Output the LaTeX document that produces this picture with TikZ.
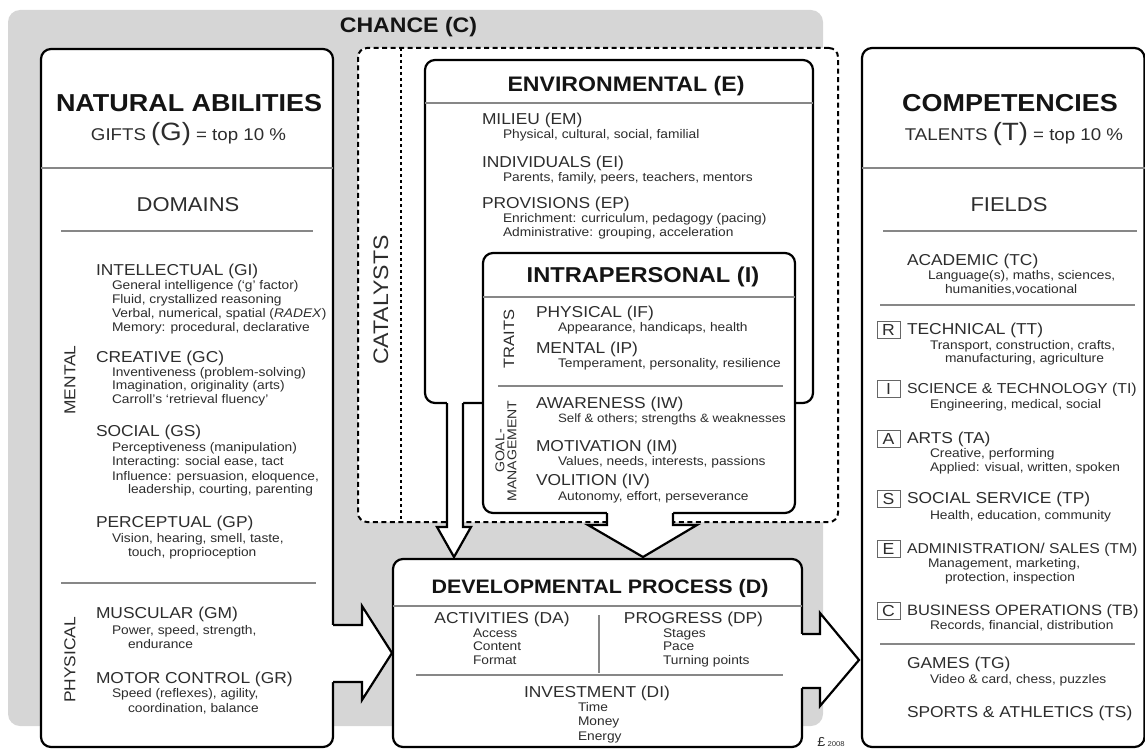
\documentclass[tikz,border=0pt]{standalone}
\usepackage{fontspec}
\setmainfont{Liberation Sans}[FakeStretch=1.1]
\definecolor{bg}{RGB}{214,214,214}
\definecolor{txt}{RGB}{45,45,45}
\definecolor{rulec}{RGB}{135,135,135}
\tikzset{
  every node/.style={inner sep=0pt, outer sep=0pt},
  Hbig/.style={font=\fontsize{#1}{#1}\selectfont\bfseries, text=black!92, anchor=base},
  hd/.style={font=\fontsize{15.8}{18}\selectfont, text=txt, anchor=base west, yshift=-5.7pt},
  hdc/.style={font=\fontsize{15.8}{18}\selectfont, text=txt, anchor=base, yshift=-5.7pt},
  sb/.style={font=\fontsize{12.5}{14}\selectfont, text=txt, anchor=base west, yshift=-4pt},
  rot/.style={font=\fontsize{#1}{#1}\selectfont, text=txt, rotate=90, anchor=center},
  box/.style={draw=black, line width=2.2pt, fill=white, rounded corners=10pt, anchor=north west},
  dbox/.style={draw=black, line width=2pt, dash pattern=on 5pt off 3.5pt, fill=white, rounded corners=9pt, anchor=north west},
  bline/.style={draw=black, line width=2.2pt, line join=miter},
  sep/.style={draw=rulec, line width=1.2pt},
  lbox/.style={draw=black!60, line width=0.9pt, minimum width=23pt, minimum height=17pt, font=\fontsize{16}{16}\selectfont, text=txt},
}
\newcommand\hdl[4]{\node[hd] (#1) at (#2,#3) {#4};}
\newcommand\sbl[4]{\node[sb] (#1) at (#2,#3) {#4};}
\begin{document}
\begin{tikzpicture}[x=1pt,y=-1pt]
\useasboundingbox (0,0) rectangle (1145,749);
% chance background
\fill[bg, rounded corners=12pt] (8,10) rectangle (823,726);
\node[Hbig=21] (chance) at (408.5,33) {CHANCE (C)};
% catalysts dashed box
\node[dbox, minimum width=480pt, minimum height=474pt] (cat) at (358,48) {};
\draw[line width=2pt, dash pattern=on 3pt off 3pt] (401,48) -- (401,522);
% boxes
\node[box, minimum width=388pt, minimum height=343pt] (env) at (425,60) {};
\node[box, minimum width=312pt, minimum height=260pt] (intra) at (483,253) {};
\node[box, minimum width=292pt, minimum height=698pt] (nat) at (41,49) {};
\node[box, minimum width=282.5pt, minimum height=699pt] (comp) at (862,48) {};
\node[box, minimum width=409pt, minimum height=188pt] (dev) at (393,559) {};
% block arrows
\fill[white] (447,400) -- (447,527) -- (437,527) -- (454,557) -- (471,527) -- (463,527) -- (463,400) -- cycle;
\draw[bline] (447,403) -- (447,527) -- (437,527) -- (454,557) -- (471,527) -- (463,527) -- (463,403);
\fill[white] (607,510) -- (607,525) -- (588,525) -- (643,557) -- (697,525) -- (673,525) -- (673,510) -- cycle;
\draw[bline] (607,513) -- (607,525) -- (588,525) -- (643,557) -- (697,525) -- (673,525) -- (673,513);
\fill[white] (330,625) -- (362,625) -- (362,606) -- (392,653) -- (362,700) -- (362,682) -- (330,682) -- cycle;
\draw[bline] (333,625) -- (362,625) -- (362,606) -- (392,653) -- (362,700) -- (362,682) -- (333,682);
\fill[white] (799,634) -- (820,634) -- (820,613) -- (859,660) -- (820,706) -- (820,688) -- (799,688) -- cycle;
\draw[bline] (802,634) -- (820,634) -- (820,613) -- (859,660) -- (820,706) -- (820,688) -- (802,688);
% separators
\draw[sep] (41,168) -- (333,168);
\draw[sep] (61,231) -- (313,231);
\draw[sep] (61,583) -- (316,583);
\draw[sep] (862,168) -- (1145,168);
\draw[sep] (883,231) -- (1137,231);
\draw[sep] (880,305) -- (1135,305);
\draw[sep] (880,644) -- (1135,644);
\draw[sep] (425,103) -- (813,103);
\draw[sep] (483,297) -- (795,297);
\draw[sep] (498,386) -- (783,386);
\draw[sep] (393,606) -- (802,606);
\draw[sep] (599,615) -- (599,673);
\draw[sep] (416,675) -- (783,675);
% ---------------- left box ----------------
\node[Hbig=24.5] (natt) at (189,111.5) {NATURAL ABILITIES};
\node[anchor=base, font=\fontsize{17}{20}\selectfont, text=txt] (gifts) at (188.5,140) {GIFTS {\fontsize{25}{25}\selectfont(G)} = top 10 \%};
\node[anchor=base, font=\fontsize{20}{24}\selectfont, text=txt] (domains) at (188,211) {DOMAINS};
\node[rot=15.8] (mental) at (70,380) {MENTAL};
\node[rot=15.8] (physical) at (70,660) {PHYSICAL};
\hdl{gi}{96}{270}{INTELLECTUAL (GI)}
\sbl{gi1}{112}{285}{General intelligence (`g' factor)}
\sbl{gi2}{112}{299}{Fluid, crystallized reasoning}
\sbl{gi3}{112}{313}{Verbal, numerical, spatial (\textit{RADEX})}
\sbl{gi4}{112}{327}{Memory: procedural, declarative}
\hdl{gc}{96}{357}{CREATIVE (GC)}
\sbl{gc1}{112}{372}{Inventiveness (problem-solving)}
\sbl{gc2}{112}{385}{Imagination, originality (arts)}
\sbl{gc3}{112}{399}{Carroll's `retrieval fluency'}
\hdl{gs}{96}{431}{SOCIAL (GS)}
\sbl{gs1}{112}{447}{Perceptiveness (manipulation)}
\sbl{gs2}{112}{461}{Interacting: social ease, tact}
\sbl{gs3}{112}{476}{Influence: persuasion, eloquence,}
\sbl{gs4}{128}{489}{leadership, courting, parenting}
\hdl{gp}{96}{522}{PERCEPTUAL (GP)}
\sbl{gp1}{112}{538}{Vision, hearing, smell, taste,}
\sbl{gp2}{128}{552}{touch, proprioception}
\hdl{gm}{96}{613}{MUSCULAR (GM)}
\sbl{gm1}{112}{630}{Power, speed, strength,}
\sbl{gm2}{128}{644}{endurance}
\hdl{gr}{96}{678}{MOTOR CONTROL (GR)}
\sbl{gr1}{112}{693}{Speed (reflexes), agility,}
\sbl{gr2}{128}{708}{coordination, balance}
% ---------------- catalysts ----------------
\node[rot=21] (catt) at (381,300) {CATALYSTS};
\node[Hbig=21] (envt) at (626,91.5) {ENVIRONMENTAL (E)};
\hdl{em}{482}{119}{MILIEU (EM)}
\sbl{em1}{503}{135}{Physical, cultural, social, familial}
\hdl{ei}{482}{162}{INDIVIDUALS (EI)}
\sbl{ei1}{503}{177}{Parents, family, peers, teachers, mentors}
\hdl{ep}{482}{203}{PROVISIONS (EP)}
\sbl{ep1}{503}{218}{Enrichment: curriculum, pedagogy (pacing)}
\sbl{ep2}{503}{232}{Administrative: grouping, acceleration}
\node[Hbig=21.5] (intrat) at (643,282) {INTRAPERSONAL (I)};
\node[rot=15] (traits) at (509,339) {TRAITS};
\node[rot=12.8, align=center, font=\fontsize{12.8}{12}\selectfont] (goal) at (506,451) {GOAL-\\MANAGEMENT};
\hdl{if}{536}{312}{PHYSICAL (IF)}
\sbl{if1}{558}{327}{Appearance, handicaps, health}
\hdl{ip}{536}{348}{MENTAL (IP)}
\sbl{ip1}{558}{363}{Temperament, personality, resilience}
\hdl{iw}{536}{403}{AWARENESS (IW)}
\node[sb, font=\fontsize{12.1}{14}\selectfont] (iw1) at (558,418) {Self \& others; strengths \& weaknesses};
\hdl{im}{536}{446}{MOTIVATION (IM)}
\sbl{im1}{558}{461}{Values, needs, interests, passions}
\hdl{iv}{536}{480}{VOLITION (IV)}
\sbl{iv1}{558}{496}{Autonomy, effort, perseverance}
% ---------------- developmental ----------------
\node[Hbig=19.5] (devt) at (600,593) {DEVELOPMENTAL PROCESS (D)};
\node[hdc] (da) at (502,618) {ACTIVITIES (DA)};
\sbl{da1}{473}{633}{Access}
\sbl{da2}{473}{646}{Content}
\sbl{da3}{473}{660}{Format}
\node[hdc] (dp) at (693.5,618) {PROGRESS (DP)};
\sbl{dp1}{663}{633}{Stages}
\sbl{dp2}{663}{646}{Pace}
\sbl{dp3}{663}{660}{Turning points}
\node[hdc] (di) at (597,692) {INVESTMENT (DI)};
\sbl{di1}{578}{707}{Time}
\sbl{di2}{578}{721}{Money}
\sbl{di3}{578}{736}{Energy}
\node[anchor=base, text=txt, font=\fontsize{13}{13}\selectfont] (logo) at (831,746) {£\,{\fontsize{7}{7}\selectfont 2008}};
% ---------------- right box ----------------
\node[Hbig=24.5] (compt) at (1010,111.5) {COMPETENCIES};
\node[anchor=base, font=\fontsize{17}{20}\selectfont, text=txt] (talents) at (1014,140) {TALENTS {\fontsize{25}{25}\selectfont(T)} = top 10 \%};
\node[anchor=base, font=\fontsize{20}{24}\selectfont, text=txt] (fields) at (1009,211) {FIELDS};
\hdl{tc}{907}{260}{ACADEMIC (TC)}
\sbl{tc1}{928}{275}{Language(s), maths, sciences,}
\sbl{tc2}{945}{289}{humanities,vocational}
\node[lbox] (lr) at (888.5,330) {R};
\hdl{tt}{907}{329}{TECHNICAL (TT)}
\sbl{tt1}{930}{345}{Transport, construction, crafts,}
\sbl{tt2}{945}{358}{manufacturing, agriculture}
\node[lbox] (li) at (888.5,389) {I};
\node[hd, font=\fontsize{14.4}{16}\selectfont] (ti) at (907,388) {SCIENCE \& TECHNOLOGY (TI)};
\sbl{ti1}{930}{404}{Engineering, medical, social}
\node[lbox] (la) at (888.5,439) {A};
\hdl{ta}{907}{438}{ARTS (TA)}
\sbl{ta1}{930}{453}{Creative, performing}
\sbl{ta2}{930}{467}{Applied: visual, written, spoken}
\node[lbox] (ls) at (888.5,499) {S};
\hdl{tp}{907}{498}{SOCIAL SERVICE (TP)}
\sbl{tp1}{930}{515}{Health, education, community}
\node[lbox] (le) at (888.5,549) {E};
\node[hd, font=\fontsize{14.3}{16}\selectfont] (tm) at (907,548) {ADMINISTRATION/ SALES (TM)};
\sbl{tm1}{928}{563}{Management, marketing,}
\sbl{tm2}{945}{577}{protection, inspection}
\node[lbox] (lc) at (888.5,611) {C};
\node[hd, font=\fontsize{15}{16}\selectfont] (tb) at (907,610) {BUSINESS OPERATIONS (TB)};
\sbl{tb1}{930}{625}{Records, financial, distribution}
\hdl{tg}{907}{663}{GAMES (TG)}
\sbl{tg1}{930}{679}{Video \& card, chess, puzzles}
\hdl{ts}{907}{712}{SPORTS \& ATHLETICS (TS)}
\end{tikzpicture}
\end{document}
